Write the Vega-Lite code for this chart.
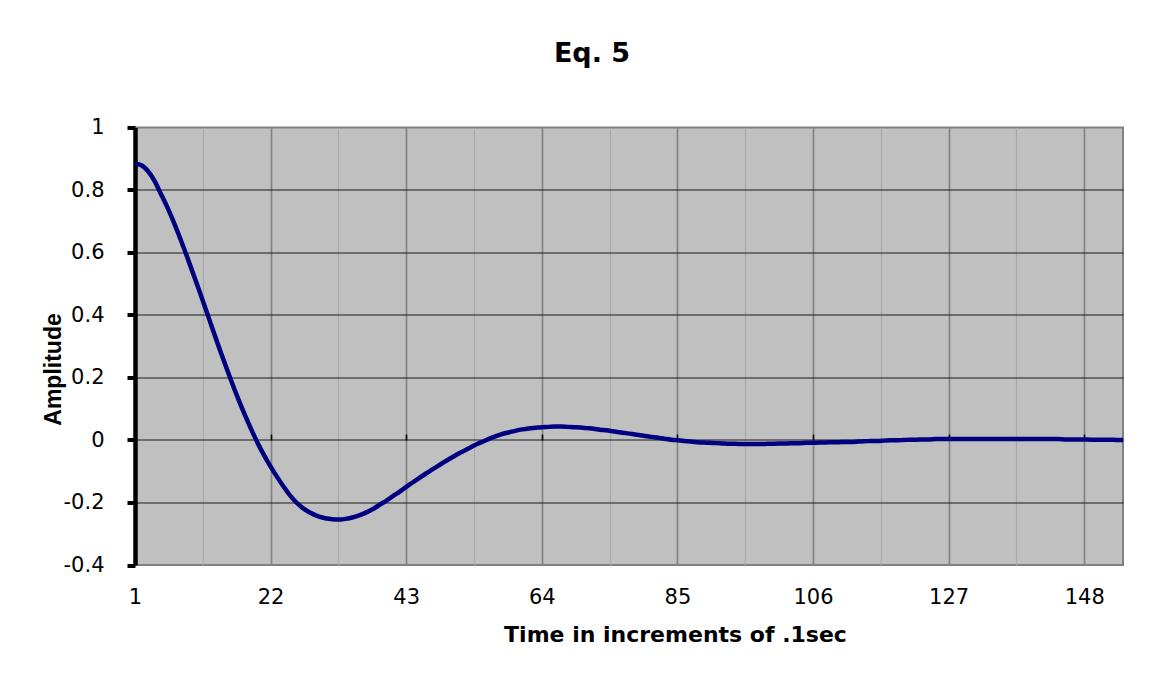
{
  "$schema": "https://vega.github.io/schema/vega-lite/v6.json",
  "width": 988,
  "height": 437.5,
  "autosize": {"type": "none"},
  "padding": {"left": 135, "top": 127.5, "right": 28, "bottom": 115},
  "background": "white",
  "config": {
    "view": {"fill": "#C0C0C0", "stroke": "#808080", "strokeWidth": 2},
    "font": "DejaVu Sans"
  },
  "title": {
    "text": "Eq. 5",
    "font": "DejaVu Sans",
    "fontSize": 27,
    "fontWeight": "bold",
    "color": "black",
    "anchor": "middle",
    "frame": "group",
    "baseline": "alphabetic",
    "dx": -37,
    "offset": 28
  },
  "data": {
    "values": [
      {"t": 1, "v": 0.885}, {"t": 2, "v": 0.879}, {"t": 3, "v": 0.861}, {"t": 4, "v": 0.830}, {"t": 5, "v": 0.788},
      {"t": 6, "v": 0.745}, {"t": 7, "v": 0.697}, {"t": 8, "v": 0.645}, {"t": 9, "v": 0.590}, {"t": 10, "v": 0.533},
      {"t": 11, "v": 0.475}, {"t": 12, "v": 0.416}, {"t": 13, "v": 0.356}, {"t": 14, "v": 0.297}, {"t": 15, "v": 0.240},
      {"t": 16, "v": 0.184}, {"t": 17, "v": 0.131}, {"t": 18, "v": 0.081}, {"t": 19, "v": 0.034}, {"t": 20, "v": -0.010},
      {"t": 21, "v": -0.049}, {"t": 22, "v": -0.085}, {"t": 23, "v": -0.118}, {"t": 24, "v": -0.149}, {"t": 25, "v": -0.177},
      {"t": 26, "v": -0.200}, {"t": 27, "v": -0.218}, {"t": 28, "v": -0.231}, {"t": 29, "v": -0.241}, {"t": 30, "v": -0.248},
      {"t": 31, "v": -0.252}, {"t": 32, "v": -0.254}, {"t": 33, "v": -0.254}, {"t": 34, "v": -0.251}, {"t": 35, "v": -0.246},
      {"t": 36, "v": -0.239}, {"t": 37, "v": -0.230}, {"t": 38, "v": -0.219}, {"t": 39, "v": -0.206}, {"t": 40, "v": -0.193},
      {"t": 41, "v": -0.179}, {"t": 42, "v": -0.165}, {"t": 43, "v": -0.150}, {"t": 44, "v": -0.136}, {"t": 45, "v": -0.122},
      {"t": 46, "v": -0.108}, {"t": 47, "v": -0.095}, {"t": 48, "v": -0.082}, {"t": 49, "v": -0.069}, {"t": 50, "v": -0.057},
      {"t": 51, "v": -0.045}, {"t": 52, "v": -0.034}, {"t": 53, "v": -0.023}, {"t": 54, "v": -0.013}, {"t": 55, "v": -0.004},
      {"t": 56, "v": 0.005}, {"t": 57, "v": 0.013}, {"t": 58, "v": 0.020}, {"t": 59, "v": 0.025}, {"t": 60, "v": 0.030},
      {"t": 61, "v": 0.034}, {"t": 62, "v": 0.037}, {"t": 63, "v": 0.039}, {"t": 64, "v": 0.041}, {"t": 65, "v": 0.042},
      {"t": 66, "v": 0.043}, {"t": 67, "v": 0.043}, {"t": 68, "v": 0.042}, {"t": 69, "v": 0.041}, {"t": 70, "v": 0.040},
      {"t": 71, "v": 0.038}, {"t": 72, "v": 0.036}, {"t": 73, "v": 0.033}, {"t": 74, "v": 0.031}, {"t": 75, "v": 0.028},
      {"t": 76, "v": 0.025}, {"t": 77, "v": 0.022}, {"t": 78, "v": 0.019}, {"t": 79, "v": 0.016}, {"t": 80, "v": 0.013},
      {"t": 81, "v": 0.010}, {"t": 82, "v": 0.007}, {"t": 83, "v": 0.004}, {"t": 84, "v": 0.001}, {"t": 85, "v": -0.001},
      {"t": 86, "v": -0.003}, {"t": 87, "v": -0.005}, {"t": 88, "v": -0.007}, {"t": 89, "v": -0.008}, {"t": 90, "v": -0.009},
      {"t": 91, "v": -0.010}, {"t": 92, "v": -0.011}, {"t": 93, "v": -0.012}, {"t": 94, "v": -0.012}, {"t": 95, "v": -0.013},
      {"t": 96, "v": -0.013}, {"t": 97, "v": -0.013}, {"t": 98, "v": -0.013}, {"t": 99, "v": -0.012}, {"t": 100, "v": -0.012},
      {"t": 101, "v": -0.011}, {"t": 102, "v": -0.011}, {"t": 103, "v": -0.010}, {"t": 104, "v": -0.010}, {"t": 105, "v": -0.009},
      {"t": 106, "v": -0.009}, {"t": 107, "v": -0.008}, {"t": 108, "v": -0.008}, {"t": 109, "v": -0.007}, {"t": 110, "v": -0.007},
      {"t": 111, "v": -0.006}, {"t": 112, "v": -0.006}, {"t": 113, "v": -0.005}, {"t": 114, "v": -0.004}, {"t": 115, "v": -0.003},
      {"t": 116, "v": -0.003}, {"t": 117, "v": -0.002}, {"t": 118, "v": -0.001}, {"t": 119, "v": -0.001}, {"t": 120, "v": 0.000},
      {"t": 121, "v": 0.001}, {"t": 122, "v": 0.001}, {"t": 123, "v": 0.002}, {"t": 124, "v": 0.002}, {"t": 125, "v": 0.003},
      {"t": 126, "v": 0.003}, {"t": 127, "v": 0.003}, {"t": 128, "v": 0.003}, {"t": 129, "v": 0.003}, {"t": 130, "v": 0.003},
      {"t": 131, "v": 0.003}, {"t": 132, "v": 0.003}, {"t": 133, "v": 0.003}, {"t": 134, "v": 0.003}, {"t": 135, "v": 0.003},
      {"t": 136, "v": 0.003}, {"t": 137, "v": 0.003}, {"t": 138, "v": 0.003}, {"t": 139, "v": 0.003}, {"t": 140, "v": 0.003},
      {"t": 141, "v": 0.003}, {"t": 142, "v": 0.003}, {"t": 143, "v": 0.003}, {"t": 144, "v": 0.003}, {"t": 145, "v": 0.002},
      {"t": 146, "v": 0.002}, {"t": 147, "v": 0.002}, {"t": 148, "v": 0.002}, {"t": 149, "v": 0.001}, {"t": 150, "v": 0.001},
      {"t": 151, "v": 0.001}, {"t": 152, "v": 0.001}, {"t": 153, "v": 0.000}, {"t": 154, "v": 0.000}
    ]
  },
  "encoding": {
    "y": {
      "field": "v",
      "type": "quantitative",
      "scale": {"domain": [-0.4, 1], "nice": false, "zero": false},
      "axis": {
        "values": [-0.4, -0.2, 0, 0.2, 0.4, 0.6, 0.8, 1],
        "grid": true,
        "gridColor": "#1a1a1a",
        "gridWidth": 1,
        "gridOpacity": {"condition": {"test": "datum.value == 1 || datum.value == -0.4", "value": 0}, "value": 1},
        "domain": true,
        "domainColor": "black",
        "domainWidth": 4.5,
        "ticks": true,
        "tickColor": "black",
        "tickWidth": 4,
        "tickSize": 8,
        "labelExpr": "toString(round(datum.value * 10) / 10)",
        "labelFont": "DejaVu Sans",
        "labelFontSize": 21,
        "labelColor": "black",
        "labelPadding": 23,
        "labelFlush": false,
        "labelOverlap": false,
        "title": "Amplitude",
        "titleFont": "Liberation Sans",
        "titleFontSize": 23,
        "titleFontWeight": "bold",
        "titleColor": "black",
        "titleAngle": -90,
        "titleX": -75,
        "titleY": 241.5,
        "titleAlign": "center",
        "titleBaseline": "alphabetic"
      }
    }
  },
  "layer": [
    {
      "mark": {"type": "line", "color": "#000080", "strokeWidth": 4.5, "interpolate": "monotone", "strokeCap": "butt"},
      "encoding": {
        "x": {
          "field": "t",
          "type": "quantitative",
          "scale": {"domain": [1, 154], "nice": false, "zero": false},
          "axis": {
            "orient": "bottom",
            "values": [1, 11.5, 22, 32.5, 43, 53.5, 64, 74.5, 85, 95.5, 106, 116.5, 127, 137.5, 148],
            "grid": true,
            "gridColor": {"condition": {"test": "datum.value % 21 == 1", "value": "#848484"}, "value": "#A9A9A9"},
            "gridWidth": {"condition": {"test": "datum.value % 21 == 1", "value": 1.7}, "value": 1.2},
            "domain": false,
            "ticks": false,
            "labelExpr": "datum.value % 21 == 1 ? toString(datum.value) : ''",
            "labelFont": "DejaVu Sans",
            "labelFontSize": 21,
            "labelColor": "black",
            "labelPadding": 21,
            "labelFlush": false,
            "labelOverlap": false,
            "title": "Time in increments of .1sec",
            "titleFont": "DejaVu Sans",
            "titleFontSize": 22,
            "titleFontWeight": "bold",
            "titleColor": "black",
            "titleX": 540,
            "titleY": 76,
            "titleAlign": "center",
            "titleBaseline": "alphabetic"
          }
        }
      }
    },
    {
      "mark": {"type": "line", "opacity": 0},
      "encoding": {
        "x": {
          "field": "t",
          "type": "quantitative",
          "axis": {
            "orient": "bottom",
            "offset": -125,
            "values": [1, 22, 43, 64, 85, 106, 127, 148],
            "domain": false,
            "ticks": true,
            "tickSize": -6,
            "tickColor": "black",
            "tickWidth": 1.5,
            "labels": false,
            "grid": false,
            "title": null
          }
        }
      }
    }
  ],
  "resolve": {"axis": {"x": "independent"}}
}
